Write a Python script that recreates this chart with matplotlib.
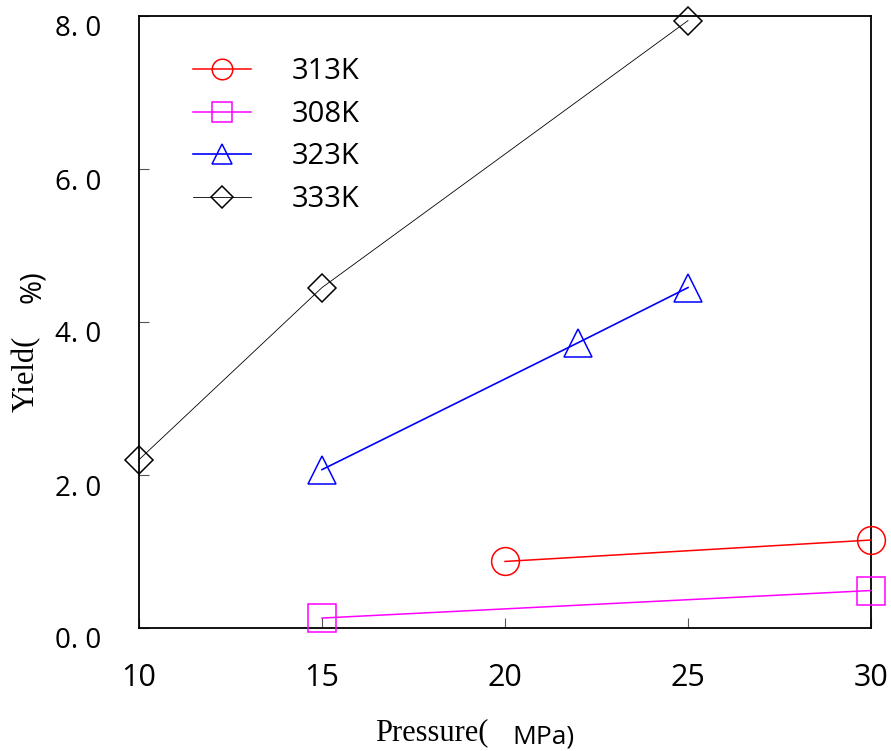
import matplotlib
matplotlib.use("Agg")
import matplotlib.pyplot as plt
import matplotlib.transforms as mtransforms

# data
p_313 = [20, 30]
y_313 = [0.87, 1.15]
p_308 = [15, 30]
y_308 = [0.13, 0.49]
p_323 = [15, 22, 25]
y_323 = [2.07, 3.73, 4.45]
p_333 = [10, 15, 25]
y_333 = [2.20, 4.45, 7.94]

xticks = [10, 15, 20, 25, 30]
yticks = [0, 2, 4, 6, 8]
ytick_labels = ["0. 0", "2. 0", "4. 0", "6. 0", "8. 0"]

W, H = 891, 751
fig = plt.figure(figsize=(W / 100, H / 100), dpi=100)
ax = fig.add_axes([139 / W, (H - 628) / H, (871 - 139) / W, (628 - 16) / H])

sans = "Open Sans"
serif = "Liberation Serif"

ax.plot(p_313, y_313, color="red", lw=1.1, marker="o", ms=20, mfc="none",
        mec="red", mew=1.1, label="313K", clip_on=False, zorder=3)
ax.plot(p_308, y_308, color="magenta", lw=1.1, marker="s", ms=20, mfc="none",
        mec="magenta", mew=1.1, label="308K", clip_on=False, zorder=3)
ax.plot(p_323, y_323, color="blue", lw=1.2, marker="^", ms=20, mfc="none",
        mec="blue", mew=1.1, label="323K", clip_on=False, zorder=3)
ax.plot(p_333, y_333, color="black", lw=0.6, marker="D", ms=14.5, mfc="none",
        mec="black", mew=1.1, label="333K", clip_on=False, zorder=3)

ax.set_xlim(10, 30)
ax.set_ylim(0, 8)
ax.set_xticks(xticks)
ax.set_yticks(yticks)
ax.set_yticklabels(ytick_labels)
for s in ax.spines.values():
    s.set_linewidth(1.3)
ax.tick_params(direction="in", length=7, width=0.8, color="#555555")
ax.tick_params(axis="x", labelsize=22, pad=25)
ax.tick_params(axis="y", labelsize=20, pad=27)
for lab in ax.get_xticklabels() + ax.get_yticklabels():
    lab.set_fontfamily(sans)
shift = mtransforms.ScaledTranslation(0, -10 / 100, fig.dpi_scale_trans)
for lab in ax.get_yticklabels():
    lab.set_transform(lab.get_transform() + shift)

leg = ax.legend(loc="upper left", bbox_to_anchor=((193 - 139) / 732, (628 - 57) / 612),
                frameon=False, borderpad=0, borderaxespad=0, handlelength=2.0,
                handletextpad=1.4, labelspacing=0.47, markerscale=0.74,
                prop={"family": sans, "size": 21})

def px(x, y):
    return x / W, (H - y) / H

fig.text(*px(375, 740), "Pressure(", family=serif, fontsize=22, ha="left", va="baseline")
fig.text(*px(512, 744), "MPa)", family=sans, fontsize=19, ha="left", va="baseline")
fig.text(*px(34, 412), "Yield(", family=serif, fontsize=22, rotation=90,
         rotation_mode="anchor", ha="left", va="baseline")
fig.text(*px(40, 303), "%)", family=sans, fontsize=21, rotation=90,
         rotation_mode="anchor", ha="left", va="baseline")

fig.savefig("out.png", dpi=100)
